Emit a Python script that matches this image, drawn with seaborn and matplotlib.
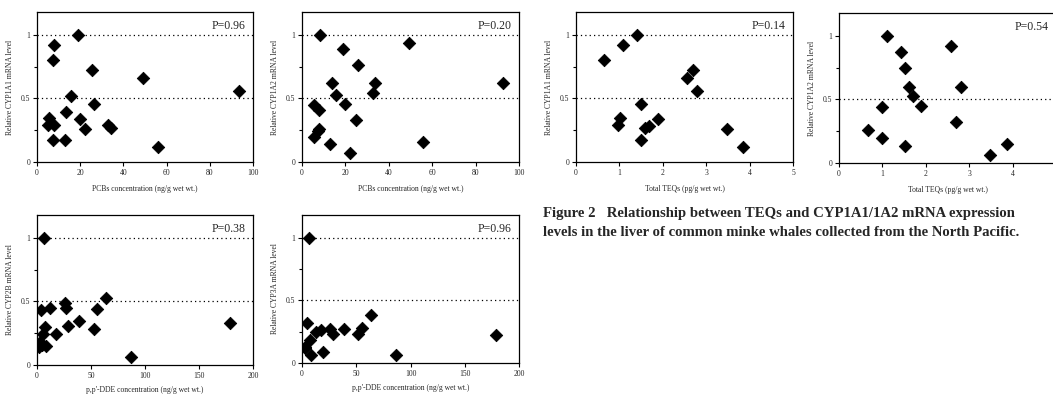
import matplotlib
matplotlib.use("Agg")
import matplotlib.pyplot as plt
import seaborn as sns
import pandas as pd
import numpy as np

# ---------------- data ----------------
pcb_a1_x = [18.8, 7.7, 7.2, 25.4, 48.9, 93.4, 15.7, 26.2, 13.5, 5.4, 19.7, 5.1, 7.7, 22.3, 32.8, 34.3, 7.2, 12.8, 56.0]
pcb_a1_y = [1.00, 0.92, 0.80, 0.72, 0.66, 0.56, 0.52, 0.46, 0.39, 0.35, 0.34, 0.29, 0.29, 0.26, 0.29, 0.27, 0.17, 0.17, 0.12]

pcb_a2_x = [8.1, 49.3, 18.7, 26.0, 13.8, 33.7, 92.6, 32.9, 15.8, 19.6, 5.4, 7.9, 25.0, 7.7, 7.2, 5.4, 12.7, 55.9, 21.9]
pcb_a2_y = [1.00, 0.94, 0.89, 0.76, 0.62, 0.62, 0.62, 0.54, 0.53, 0.46, 0.45, 0.41, 0.33, 0.26, 0.24, 0.20, 0.14, 0.16, 0.07]

teq_a1_x = [0.65, 1.08, 1.40, 2.55, 2.69, 2.78, 1.50, 1.02, 0.96, 1.88, 1.59, 1.68, 1.50, 3.48, 3.85]
teq_a1_y = [0.80, 0.92, 1.00, 0.66, 0.72, 0.56, 0.46, 0.35, 0.29, 0.34, 0.27, 0.28, 0.17, 0.26, 0.12]

teq_a2_x = [1.11, 1.42, 1.52, 2.59, 1.61, 1.70, 2.80, 1.89, 1.00, 0.67, 0.98, 2.70, 1.52, 3.48, 3.86]
teq_a2_y = [1.00, 0.87, 0.75, 0.92, 0.60, 0.53, 0.60, 0.45, 0.44, 0.26, 0.20, 0.32, 0.13, 0.06, 0.15]

dde_b_x = [6.2, 64.0, 25.5, 27.0, 12.3, 56.0, 3.7, 38.5, 7.0, 28.6, 53.0, 179.0, 18.0, 5.5, 2.5, 4.6, 8.3, 1.5, 87.0]
dde_b_y = [1.00, 0.53, 0.49, 0.45, 0.45, 0.44, 0.43, 0.35, 0.30, 0.31, 0.28, 0.33, 0.245, 0.24, 0.18, 0.16, 0.15, 0.145, 0.066]

dde_c_x = [6.7, 64.0, 4.6, 55.6, 39.0, 52.0, 26.0, 28.4, 17.7, 12.8, 7.6, 2.4, 3.0, 8.5, 18.9, 86.4, 179.0]
dde_c_y = [1.00, 0.38, 0.32, 0.28, 0.27, 0.23, 0.27, 0.23, 0.26, 0.245, 0.18, 0.13, 0.12, 0.067, 0.088, 0.067, 0.22]

p_labels = ["P=0.96", "P=0.20", "P=0.14", "P=0.54", "P=0.38", "P=0.96"]
y_labels = ["Relative CYP1A1 mRNA level", "Relative CYP1A2 mRNA level",
            "Relative CYP1A1 mRNA level", "Relative CYP1A2 mRNA level",
            "Relative CYP2B mRNA level", "Relative CYP3A mRNA level"]
x_labels = ["PCBs concentration (ng/g wet wt.)", "PCBs concentration (ng/g wet wt.)",
            "Total TEQs (pg/g wet wt.)", "Total TEQs (pg/g wet wt.)",
            "p,p'-DDE concentration (ng/g wet wt.)", "p,p'-DDE concentration (ng/g wet wt.)"]
x_limits = [100, 100, 5, 5, 200, 200]
x_ticks = [[0, 20, 40, 60, 80, 100], [0, 20, 40, 60, 80, 100],
           [0, 1, 2, 3, 4, 5], [0, 1, 2, 3, 4],
           [0, 50, 100, 150, 200], [0, 50, 100, 150, 200]]
y_ticks = [0, 0.5, 1]
y_tick_labels = ["0", "0.5", "1"]
ref_lines = [[0.5, 1.0], [0.5, 1.0], [0.5, 1.0], [0.5], [0.5, 1.0], [0.5, 1.0]]
caption = ["Figure 2   Relationship between TEQs and CYP1A1/1A2 mRNA expression",
           "levels in the liver of common minke whales collected from the North Pacific."]

series = [(pcb_a1_x, pcb_a1_y), (pcb_a2_x, pcb_a2_y), (teq_a1_x, teq_a1_y),
          (teq_a2_x, teq_a2_y), (dde_b_x, dde_b_y), (dde_c_x, dde_c_y)]

# ---------------- style ----------------
sns.set_style("ticks")
plt.rcParams['font.family'] = ['Liberation Serif', 'DejaVu Serif']

W, H = 1053, 394
fig = plt.figure(figsize=(W / 100, H / 100), dpi=100)

# axes boxes in pixels: left, top, width, height
boxes = [(37, 12, 216, 150), (302, 12, 217, 150), (576, 12, 217, 150),
         (839, 13, 217, 150), (37, 215, 216, 150), (302, 215, 217, 148)]

for i, ((xs, ys), (l, t, w, h)) in enumerate(zip(series, boxes)):
    ax = fig.add_axes([l / W, 1 - (t + h) / H, w / W, h / H])
    df = pd.DataFrame({"x": xs, "y": ys})
    sns.scatterplot(data=df, x="x", y="y", ax=ax, marker="D", s=40,
                    color="black", edgecolor="black", linewidth=0.6, zorder=3)
    for yv in ref_lines[i]:
        ax.axhline(yv, color="black", lw=0.9, ls=(0, (1, 2.5)), zorder=1)
    ax.set_xlim(0, x_limits[i])
    ax.set_ylim(0, 1.18)
    ax.set_xticks(x_ticks[i])
    ax.set_xticklabels([str(v) for v in x_ticks[i]], fontsize=5.5)
    ax.set_yticks(y_ticks)
    ax.set_yticklabels(y_tick_labels, fontsize=5.5)
    ax.set_yticks([0.25, 0.75], minor=True)
    ax.tick_params(axis="both", which="major", length=3, width=0.8, pad=2, color="black")
    ax.tick_params(axis="y", which="minor", length=2, width=0.8, color="black")
    for s in ax.spines.values():
        s.set_visible(True)
        s.set_linewidth(0.9)
        s.set_color("black")
    ax.set_xlabel(x_labels[i], fontsize=5.5, labelpad=4 if i >= 4 else 6)
    ax.set_ylabel(y_labels[i], fontsize=5.5, labelpad=5)
    ax.text(0.965, 1.02, p_labels[i], transform=ax.get_yaxis_transform(),
            ha="right", va="bottom", fontsize=8.5)

fig.text(543 / W, 1 - 214 / H, caption[0], fontsize=10.6, fontweight="bold",
         ha="left", va="center")
fig.text(543 / W, 1 - 232 / H, caption[1], fontsize=10.6, fontweight="bold",
         ha="left", va="center")

fig.savefig("out.png", dpi=100, facecolor="white")
